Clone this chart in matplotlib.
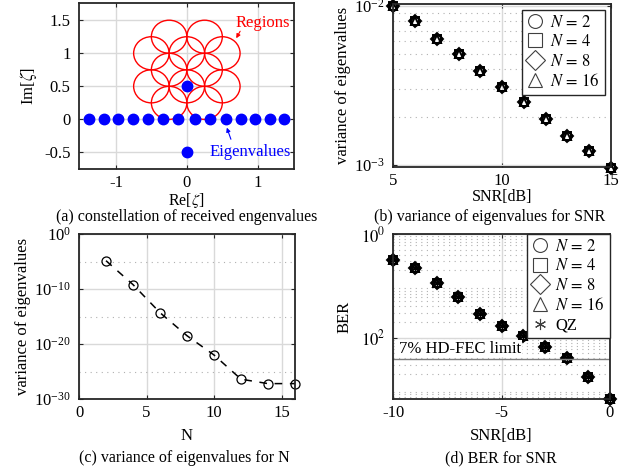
import numpy as np
import matplotlib
matplotlib.use("Agg")
import matplotlib.pyplot as plt
from matplotlib.ticker import NullFormatter, FixedLocator

plt.rcParams['font.family'] = ['Liberation Serif', 'DejaVu Serif']
plt.rcParams['mathtext.fontset'] = 'stix'
plt.rcParams['axes.unicode_minus'] = False
plt.rcParams['font.size'] = 12

# ---------- data ----------
# (a) constellation
eig_re = [-1.375, -1.165, -0.965, -0.755, -0.55, -0.34, -0.12,
          0.115, 0.33, 0.55, 0.77, 0.963, 1.17, 1.37]
eig_im = [0.0] * 14
extra_re = [0.0, 0.0]
extra_im = [0.5, -0.5]
region_cx = [-0.25, 0.25, -0.5, 0.0, 0.5, -0.25, 0.25, -0.5, 0.0, 0.5, -0.25, 0.25]
region_cy = [1.25, 1.25, 1.0, 1.0, 1.0, 0.75, 0.75, 0.5, 0.5, 0.5, 0.25, 0.25]
region_r = 0.25

# (b) variance vs SNR
snr_b = [5, 6, 7, 8, 9, 10, 11, 12, 13, 14, 15]
var_b = [1.0e-2, 8.05e-3, 6.21e-3, 4.98e-3, 3.93e-3, 3.12e-3,
         2.48e-3, 1.96e-3, 1.53e-3, 1.22e-3, 0.96e-3]
labels_N = ['$N\\,=\\,2$', '$N\\,=\\,4$', '$N\\,=\\,8$', '$N\\,=\\,16$']

# (c) variance vs N
N_c = [2, 4, 6, 8, 10, 12, 14, 16]
var_c = [1.4e-5, 6.3e-10, 5.0e-15, 3.2e-19, 1.0e-22, 4.0e-27, 6.3e-28, 6.3e-28]

# (d) BER vs SNR
snr_d = [-10, -9, -8, -7, -6, -5, -4, -3, -2, -1, 0]
ber_d = [0.314, 0.217, 0.114, 0.0604, 0.0279, 0.0169, 0.0108,
         6.53e-3, 4.07e-3, 1.7e-3, 6.6e-4]
ber_qz = [0.314, 0.217, 0.114, 0.0604, 0.0279, 0.0169, 0.0108,
          6.53e-3, 4.07e-3, 1.7e-3, 6.6e-4]
fec_limit = 3.8e-3

W, H = 641, 471
fig = plt.figure(figsize=(W / 100, H / 100), dpi=100)

def box(l, t, r, b):
    return [l / W, 1 - b / H, (r - l) / W, (b - t) / H]

grid_c = '#d9d9d9'
spine_c = '#262626'
ast = (6, 2, 0)
cap_fs = 11.5

def style(ax):
    for s in ax.spines.values():
        s.set_color(spine_c)
        s.set_linewidth(1.3)
    ax.tick_params(direction='in', length=3, width=0.8, colors=spine_c,
                   labelcolor='black', top=True, right=True, pad=6)
    ax.tick_params(axis='x', pad=4)
    ax.tick_params(which='minor', direction='in', length=0, top=True, right=True)
    ax.set_axisbelow(True)

# ---------- (a) ----------
ax = fig.add_axes(box(79, 3, 294, 169))
style(ax)
for cx, cy in zip(region_cx, region_cy):
    ax.add_patch(plt.Circle((cx, cy), region_r, fill=False, ec='red', lw=1.0))
ax.plot(eig_re, eig_im, 'o', color='blue', ms=7.5, mec='blue')
ax.plot(extra_re, extra_im, 'o', color='blue', ms=7.5, mec='blue')
ax.set_xlim(-1.52, 1.51)
ax.set_ylim(-0.75, 1.76)
ax.set_xticks([-1, 0, 1])
ax.set_yticks([-0.5, 0, 0.5, 1, 1.5])
ax.set_yticklabels(['-0.5', '0', '0.5', '1', '1.5'])
ax.grid(True, color=grid_c, lw=1.0)
ax.set_xlabel('Re[$\\zeta$]', labelpad=0, fontsize=11.5)
ax.set_ylabel('Im[$\\zeta$]', labelpad=4)
ax.text(1.07, 1.455, 'Regions', color='red', ha='center', va='center')
ax.annotate('', xy=(0.677, 1.19), xytext=(0.77, 1.37),
            arrowprops=dict(arrowstyle='-|>', color='red', lw=0.8, mutation_scale=6))
ax.text(0.89, -0.49, 'Eigenvalues', color='blue', ha='center', va='center')
ax.annotate('', xy=(0.55, -0.085), xytext=(0.634, -0.34),
            arrowprops=dict(arrowstyle='-|>', color='blue', lw=0.8, mutation_scale=6))
fig.text(187 / W, 1 - 217 / H, '(a) constellation of received engenvalues',
         ha='center', va='center', fontsize=cap_fs)

# ---------- (b) ----------
ax = fig.add_axes(box(393.3, 4, 611, 167.3))
style(ax)
ax.set_yscale('log')
mk = ['o', 's', 'D', '^']
for m, lab in zip(mk, labels_N):
    ax.plot(snr_b, var_b, m, mfc='none', mec='black', mew=1.4, ms=6, clip_on=False)
ax.set_xlim(5, 15)
ax.set_ylim(9.7e-4, 1.03e-2)
ax.set_xticks([5, 10, 15])
ax.yaxis.set_major_locator(FixedLocator([1e-3, 1e-2]))
ax.yaxis.set_minor_locator(FixedLocator([k * 1e-3 for k in range(2, 10)]))
ax.yaxis.set_minor_formatter(NullFormatter())
ax.grid(True, which='major', color=grid_c, lw=1.0)
ax.grid(True, which='minor', axis='y', color='#b0b0b0', lw=0.8, ls=(0, (1, 4)))
ax.set_xlabel('SNR[dB]', labelpad=0, fontsize=11.5)
ax.set_ylabel('variance of eigenvalues', labelpad=2)
hs = [ax.plot([], [], m, mfc='none', mec='#404040', mew=0.8, ms=10)[0] for m in mk]
leg = ax.legend(hs, labels_N, loc='upper right', fontsize=12, frameon=True,
                fancybox=False, edgecolor=spine_c, handlelength=1.0,
                handletextpad=0.4, borderaxespad=0.35, labelspacing=0.2,
                borderpad=0.3, framealpha=1)
leg.get_frame().set_linewidth(1.0)
fig.text(490 / W, 1 - 217 / H, '(b) variance of eigenvalues for SNR',
         ha='center', va='center', fontsize=cap_fs)

# ---------- (c) ----------
ax = fig.add_axes(box(79, 234, 295, 399))
style(ax)
ax.set_yscale('log')
ax.plot(N_c, var_c, color='black', ls=(0, (5, 5)), lw=1.1, marker='o',
        mfc='none', mec='black', ms=6.5, mew=0.9, clip_on=False)
ax.set_xlim(0, 16)
ax.set_ylim(1e-30, 1e0)
ax.set_xticks([0, 5, 10, 15])
ax.yaxis.set_major_locator(FixedLocator([1e-30, 1e-20, 1e-10, 1e0]))
ax.yaxis.set_minor_locator(FixedLocator([1e-25, 1e-15, 1e-5]))
ax.yaxis.set_minor_formatter(NullFormatter())
ax.grid(True, which='major', color=grid_c, lw=1.0)
ax.grid(True, which='minor', axis='y', color='#b0b0b0', lw=0.8, ls=(0, (1, 4)))
ax.set_xlabel('N', labelpad=5)
ax.set_ylabel('variance of eigenvalues', labelpad=2)
fig.text(184 / W, 1 - 458 / H, '(c) variance of eigenvalues for N',
         ha='center', va='center', fontsize=cap_fs)

# ---------- (d) ----------
ax = fig.add_axes(box(393.3, 234, 610, 399))
style(ax)
ax.set_yscale('log')
for m in mk:
    ax.plot(snr_d, ber_d, m, mfc='none', mec='black', mew=1.4, ms=6, clip_on=False)
ax.plot(snr_d, ber_qz, marker=ast, ls='none', color='black', ms=6, mew=1.0, clip_on=False)
ax.axhline(fec_limit, color='#7f7f7f', lw=1.0)
ax.text(-9.75, fec_limit * 1.12, '7% HD-FEC limit', ha='left', va='bottom',
        bbox=dict(fc='white', ec='none', pad=0.5))
ax.set_xlim(-10, 0)
ax.set_ylim(6.5e-4, 1e0)
ax.set_xticks([-10, -5, 0])
ax.yaxis.set_major_locator(FixedLocator([1e-2, 1e0]))
ax.set_yticklabels(['$10^2$', '$10^0$'])
ax.yaxis.set_minor_locator(FixedLocator([k * 10.0 ** e for e in (-4, -3, -2, -1) for k in range(2, 10)]))
ax.yaxis.set_minor_formatter(NullFormatter())
ax.grid(True, which='major', color=grid_c, lw=1.0)
ax.grid(True, which='minor', axis='y', color='#b0b0b0', lw=0.8, ls=(0, (1, 4)))
ax.set_xlabel('SNR[dB]', labelpad=5)
ax.set_ylabel('BER', labelpad=6)
hs = [ax.plot([], [], m, mfc='none', mec='#404040', mew=0.8, ms=10)[0] for m in mk]
hs.append(ax.plot([], [], marker=ast, ls='none', color='#404040', ms=8, mew=0.8)[0])
leg = ax.legend(hs, labels_N + ['QZ'], loc='upper right', fontsize=12, frameon=True,
                fancybox=False, edgecolor=spine_c, handlelength=1.0,
                handletextpad=0.4, borderaxespad=0.0, labelspacing=0.2,
                borderpad=0.3, framealpha=1)
leg.get_frame().set_linewidth(1.0)
fig.text(501 / W, 1 - 458 / H, '(d) BER for SNR',
         ha='center', va='center', fontsize=cap_fs)

fig.savefig('out.png', dpi=100)
